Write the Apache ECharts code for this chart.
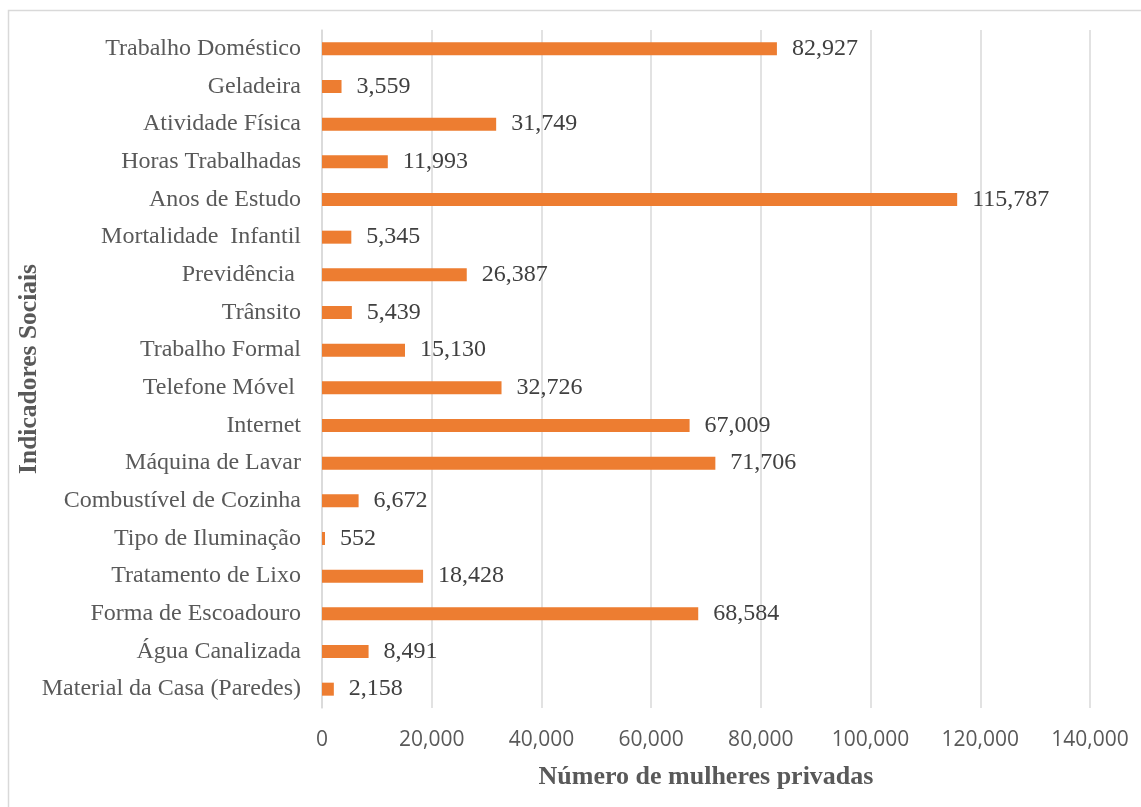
<!DOCTYPE html>
<html>
<head>
<meta charset="utf-8">
<script src="https://cdn.jsdelivr.net/npm/echarts@6/dist/echarts.min.js"></script>
<style>
html,body{margin:0;padding:0;background:#fff;}
#chart{width:1141px;height:807px;}
</style>
</head>
<body>
<div id="chart"></div>
<script>
const categories = [
  "Material da Casa (Paredes)",
  "Água Canalizada",
  "Forma de Escoadouro",
  "Tratamento de Lixo",
  "Tipo de Iluminação",
  "Combustível de Cozinha",
  "Máquina de Lavar",
  "Internet",
  "Telefone Móvel ",
  "Trabalho Formal",
  "Trânsito",
  "Previdência ",
  "Mortalidade  Infantil",
  "Anos de Estudo",
  "Horas Trabalhadas",
  "Atividade Física",
  "Geladeira",
  "Trabalho Doméstico"
];
const values = [2158, 8491, 68584, 18428, 552, 6672, 71706, 67009, 32726, 15130, 5439, 26387, 5345, 115787, 11993, 31749, 3559, 82927];
const xTicks = { min: 0, max: 140000, interval: 20000 };
const xTitle = "Número de mulheres privadas";
const yTitle = "Indicadores Sociais";

const fmt = v => Number(v).toLocaleString('en-US');

const chart = echarts.init(document.getElementById('chart'), null, { renderer: 'canvas' });
chart.setOption({
  backgroundColor: '#ffffff',
  animation: false,
  graphic: [{
    type: 'rect',
    shape: { x: 8.5, y: 10.5, width: 1200, height: 900 },
    style: { fill: 'none', stroke: '#d9d9d9', lineWidth: 1.5 },
    silent: true
  }],
  grid: { left: 322, right: 51, top: 30, bottom: 99, containLabel: false, outerBoundsMode: 'none' },
  xAxis: {
    type: 'value',
    min: xTicks.min, max: xTicks.max, interval: xTicks.interval,
    axisLine: { show: false },
    axisTick: { show: false },
    splitLine: { show: true, lineStyle: { color: '#d9d9d9', width: 1.5 } },
    axisLabel: {
      formatter: v => fmt(v),
      fontFamily: '"Open Sans", sans-serif',
      fontSize: 21,
      color: '#595959',
      margin: 22
    },
    name: xTitle,
    nameLocation: 'middle',
    nameGap: 56,
    nameMoveOverlap: false,
    nameTextStyle: {
      fontFamily: '"Liberation Serif", "Times New Roman", serif',
      fontWeight: 'bold',
      fontSize: 26,
      color: '#595959'
    }
  },
  yAxis: {
    type: 'category',
    data: categories,
    axisLine: { show: true, lineStyle: { color: '#d9d9d9', width: 1.5 } },
    axisTick: { show: false },
    axisLabel: {
      fontFamily: '"Liberation Serif", "Times New Roman", serif',
      fontSize: 24,
      color: '#595959',
      margin: 21
    },
    name: yTitle,
    nameLocation: 'middle',
    nameRotate: 90,
    nameGap: 280,
    nameMoveOverlap: false,
    nameTextStyle: {
      fontFamily: '"Liberation Serif", "Times New Roman", serif',
      fontWeight: 'bold',
      fontSize: 25.5,
      color: '#595959'
    }
  },
  series: [{
    type: 'bar',
    data: values,
    barWidth: 13,
    itemStyle: { color: '#ed7d31' },
    label: {
      show: true,
      position: 'right',
      distance: 15,
      formatter: p => fmt(p.value),
      fontFamily: '"Liberation Serif", "Times New Roman", serif',
      fontSize: 24,
      color: '#404040'
    }
  }]
});
</script>
</body>
</html>
